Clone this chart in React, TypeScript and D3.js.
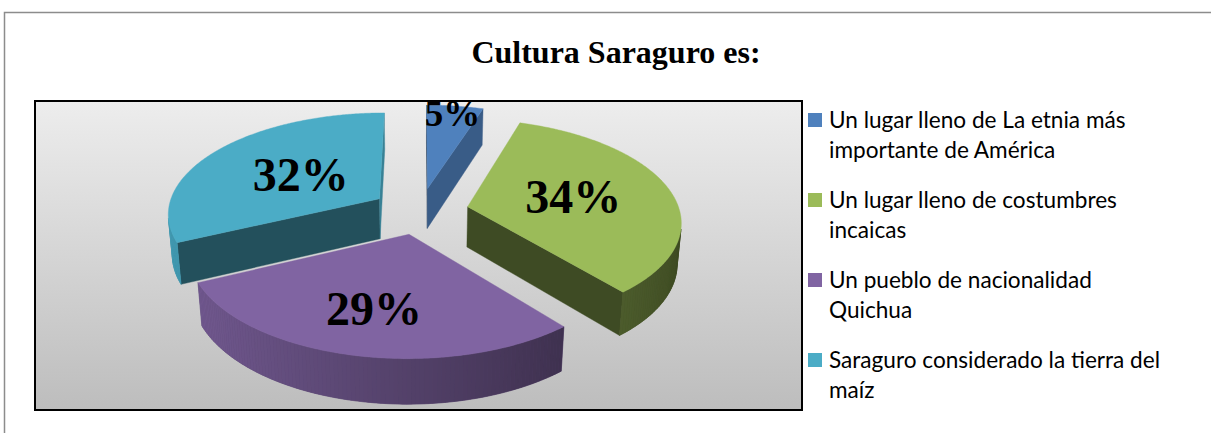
import React from "react";
import * as d3 from "d3";

// chart data
const values = [5, 34, 29, 32];
const legendLines = [
  ["Un lugar lleno de La etnia más", "importante de América"],
  ["Un lugar lleno de costumbres", "incaicas"],
  ["Un pueblo de nacionalidad", "Quichua"],
  ["Saraguro considerado la tierra del", "maíz"],
];
const title = "Cultura Saraguro es:";

const colors = ["#4F81BD", "#9BBB59", "#8064A2", "#4BACC6"];
// where each % label sits along its slice (fraction of radius) and its size
const labelRadius = [0.9, 0.52, 0.65, 0.47];
const labelSize = [37, 48, 48, 48];

const W = 1211;
const H = 433;

// 3d camera
const cx = 420;
const cy = 211;
const F = 212;
const sinE = 0.4745;
const cosE = Math.sqrt(1 - sinE * sinE);
const camDist = 6.5;
const thick = 0.22;
const explode = 0.23;
const cam = [0, camDist * sinE, -camDist * cosE];

function project(p: number[]): [number, number] {
  const [X, Y, Z] = p;
  const depth = camDist + Z * cosE - Y * sinE;
  const k = camDist / depth;
  return [cx + F * X * k, cy - F * (Y * cosE + Z * sinE) * k];
}

function shade(c: string, f: number) {
  const r = d3.rgb(c);
  return d3.rgb(r.r * f, r.g * f, r.b * f).formatHex();
}

function facing(n: number[], p: number[]) {
  return n[0] * (cam[0] - p[0]) + n[1] * (cam[1] - p[1]) + n[2] * (cam[2] - p[2]) > 0;
}

const line = d3.line();

export default function App() {
  const arcs = d3.pie<number>().sort(null)(values);

  const slices = arcs.map((a, i) => {
    const a0 = a.startAngle;
    const a1 = a.endAngle;
    const m = (a0 + a1) / 2;
    const ox = explode * Math.sin(m);
    const oz = explode * Math.cos(m);
    const pt = (t: number, r: number, y: number) => [ox + r * Math.sin(t), y, oz + r * Math.cos(t)];
    const faces: { d: string; fill: string }[] = [];

    // radial side faces
    const radial = (t: number, n: number[]) => {
      const verts = [pt(t, 0, 0), pt(t, 1, 0), pt(t, 1, -thick), pt(t, 0, -thick)];
      const mid = pt(t, 0.5, -thick / 2);
      if (facing(n, mid)) {
        const f = 0.4 + 0.35 * Math.pow(Math.max(0, n[0]), 2);
        faces.push({ d: line(verts.map(project))! + "Z", fill: shade(colors[i], f) });
      }
    };
    radial(a0, [-Math.cos(a0), 0, Math.sin(a0)]);
    radial(a1, [Math.cos(a1), 0, -Math.sin(a1)]);

    // outer curved face, split in thin strips for the shading
    const steps = Math.max(4, Math.ceil(((a1 - a0) * 180) / Math.PI));
    const strips: { d: string; fill: string }[] = [];
    const visT: number[] = [];
    for (let s = 0; s < steps; s++) {
      const t0 = a0 + ((a1 - a0) * s) / steps;
      const t1 = a0 + ((a1 - a0) * (s + 1)) / steps;
      const tm = (t0 + t1) / 2;
      const n = [Math.sin(tm), 0, Math.cos(tm)];
      if (!facing(n, pt(tm, 1, -thick / 2))) continue;
      visT.push(t0, t1);
      const verts = [pt(t0, 1, 0), pt(t1, 1, 0), pt(t1, 1, -thick), pt(t0, 1, -thick)];
      strips.push({ d: line(verts.map(project))! + "Z", fill: shade(colors[i], 0.65 - 0.25 * n[0]) });
    }
    if (strips.length) {
      // a backing face under the strips hides the seams between them
      const lo = Math.min(...visT);
      const hi = Math.max(...visT);
      const back: number[][] = [];
      const nb = Math.ceil(((hi - lo) * 180) / Math.PI) + 1;
      for (let s = 0; s <= nb; s++) back.push(pt(lo + ((hi - lo) * s) / nb, 1, 0));
      for (let s = nb; s >= 0; s--) back.push(pt(lo + ((hi - lo) * s) / nb, 1, -thick));
      faces.push({ d: line(back.map(project))! + "Z", fill: strips[Math.floor(strips.length / 2)].fill });
      faces.push(...strips);
    }

    // top face
    const top = [pt(0, 0, 0)];
    const n = Math.ceil(((a1 - a0) * 180) / Math.PI) * 2;
    for (let s = 0; s <= n; s++) top.push(pt(a0 + ((a1 - a0) * s) / n, 1, 0));
    faces.push({ d: line(top.map(project))! + "Z", fill: colors[i] });

    const lp = project(pt(m, labelRadius[i], 0));
    return { i, faces, lp, z: oz };
  });

  const order = [...slices].sort((a, b) => b.z - a.z);

  return (
    <svg width={W} height={H} style={{ position: "absolute", left: 0, top: 0, background: "#fff" }}>
      <defs>
        <linearGradient id="plotBg" x1="0" y1="0" x2="0" y2="1">
          <stop offset="0" stopColor="#ededed" />
          <stop offset="1" stopColor="#bdbdbd" />
        </linearGradient>
        <clipPath id="plotClip">
          <rect x={35} y={101} width={767} height={309} />
        </clipPath>
      </defs>
      {/* outer frame */}
      <path d={`M4.5,${H} V12.5 H${W}`} fill="none" stroke="#8c8c8c" strokeWidth={1.5} />
      <text x={616} y={63} textAnchor="middle" fontFamily="Liberation Serif" fontWeight="bold" fontSize={32}>
        {title}
      </text>
      <rect x={35} y={101} width={767} height={309} fill="url(#plotBg)" />
      <g clipPath="url(#plotClip)">
        {order.map((s) => (
          <g key={s.i}>
            {s.faces.map((f, j) => (
              <path key={j} d={f.d} fill={f.fill} stroke={f.fill} strokeWidth={0.4} strokeLinejoin="round" />
            ))}
          </g>
        ))}
        {slices.map((s) => (
          <text
            key={"l" + s.i}
            x={s.lp[0]}
            y={s.lp[1] + labelSize[s.i] / 3}
            textAnchor="middle"
            fontFamily="Liberation Serif"
            fontWeight="bold"
            fontSize={labelSize[s.i]}
          >
            {values[s.i]}%
          </text>
        ))}
      </g>
      <rect x={35} y={101} width={767} height={309} fill="none" stroke="#000" strokeWidth={2} />
      {legendLines.map((lines, i) => (
        <g key={"lg" + i} transform={`translate(808,${128 + i * 80})`}>
          <rect x={0} y={-15} width={14} height={14} fill={colors[i]} />
          {lines.map((t, j) => (
            <text key={j} x={21} y={j * 30} fontFamily="Lato" fontSize={22.6} fill="#000">
              {t}
            </text>
          ))}
        </g>
      ))}
    </svg>
  );
}
